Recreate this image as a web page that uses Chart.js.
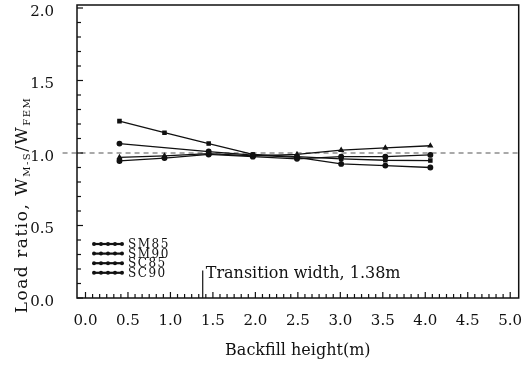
<!DOCTYPE html>
<html>
<head>
<meta charset="utf-8">
<script src="https://cdn.jsdelivr.net/npm/chart.js@4.4.1/dist/chart.umd.min.js"></script>
<style>
  html, body { margin: 0; padding: 0; background: #fff; }
</style>
</head>
<body>
<canvas id="grafico" width="524" height="374"></canvas>
<script>
// dados
const alturas = [0.4, 0.93, 1.45, 1.97, 2.49, 3.01, 3.53, 4.06];
const sm85 = [1.22, 1.14, 1.065, 0.99, 0.975, 0.96, 0.95, 0.948];
const sm90 = [1.065, null, 1.01, 0.985, 0.97, 0.925, 0.913, 0.90];
const sc85 = [0.97, 0.98, 0.995, 0.98, 0.99, 1.02, 1.035, 1.05];
const sc90 = [0.945, 0.965, 0.99, 0.975, 0.96, 0.975, 0.975, 0.987];
const nomesSeries = ["SM85", "SM90", "SC85", "SC90"];
const referenciaY = 1.0;
const referenciaX = [-0.27, 5.1];
const transicao = 1.38;
const textoTransicao = "Transition width, 1.38m";
const rotuloX = "Backfill height(m)";

const serif = "'DejaVu Serif', serif";

function pontos(valores) {
  return alturas.map((h, i) => ({ x: h, y: valores[i] }));
}

// moldura, marcas internas, anotação, legenda e título do eixo y
const extras = {
  id: "extras",
  afterDraw(chart) {
    const { ctx, chartArea: a, scales: { x, y } } = chart;
    ctx.save();
    ctx.strokeStyle = "#111";
    ctx.lineWidth = 1.5;
    ctx.strokeRect(a.left, a.top - 3, a.right - a.left, a.bottom - a.top + 3);

    // marcas do eixo x (para dentro)
    ctx.lineWidth = 1.2;
    x.ticks.forEach(t => {
      const px = x.getPixelForValue(t.value);
      const grande = t.label !== "";
      ctx.beginPath();
      ctx.moveTo(px, a.bottom);
      ctx.lineTo(px, a.bottom - (grande ? 6 : 4));
      ctx.stroke();
    });
    // marcas do eixo y
    y.ticks.forEach(t => {
      const py = y.getPixelForValue(t.value);
      const grande = t.label !== "";
      ctx.beginPath();
      ctx.moveTo(a.left, py);
      ctx.lineTo(a.left + (grande ? 6 : 4), py);
      ctx.stroke();
    });

    // linha de transição
    const tx = x.getPixelForValue(transicao);
    ctx.lineWidth = 1.2;
    ctx.beginPath();
    ctx.moveTo(tx, a.bottom);
    ctx.lineTo(tx, y.getPixelForValue(0.19));
    ctx.stroke();
    ctx.fillStyle = "#111";
    ctx.font = "16px " + serif;
    ctx.textBaseline = "middle";
    ctx.textAlign = "left";
    ctx.fillText(textoTransicao, tx + 3, y.getPixelForValue(0.17));

    // legenda
    ctx.font = "12px " + serif;
    ctx.letterSpacing = "1.5px";
    chart.data.datasets.slice(0, 4).forEach((ds, i) => {
      const ly = 244 + i * 9.6;
      ctx.lineWidth = 2.2;
      ctx.beginPath();
      ctx.moveTo(93, ly);
      ctx.lineTo(122, ly);
      ctx.stroke();
      for (let k = 0; k < 5; k++) {
        ctx.beginPath();
        ctx.arc(94 + k * 7, ly, 2, 0, Math.PI * 2);
        ctx.fill();
      }
      ctx.fillText(ds.label, 128, ly + 1);
    });
    ctx.letterSpacing = "0px";

    // título do eixo y com subscritos
    const partes = [
      ["Load ratio, W", 17, 0],
      ["M-S", 10, 4],
      ["/W", 17, 0],
      ["FEM", 10, 4]
    ];
    ctx.letterSpacing = "1.5px";
    let total = 0;
    partes.forEach(p => { ctx.font = p[1] + "px " + serif; total += ctx.measureText(p[0]).width; });
    ctx.translate(23, 205);
    ctx.rotate(-Math.PI / 2);
    let cx = -total / 2;
    ctx.textAlign = "left";
    partes.forEach(p => {
      ctx.font = p[1] + "px " + serif;
      ctx.fillText(p[0], cx, p[2]);
      cx += ctx.measureText(p[0]).width;
    });
    ctx.restore();
  }
};

const estiloSerie = (nome, valores, forma, tracejado) => ({
  label: nome,
  data: pontos(valores),
  borderColor: "#111",
  backgroundColor: "#111",
  borderWidth: 1.3,
  borderDash: tracejado || [],
  pointStyle: forma,
  pointRadius: 2.3,
  pointBackgroundColor: "#111",
  spanGaps: true,
  tension: 0
});

const ctx = document.getElementById("grafico").getContext("2d");
const grafico = new Chart(ctx, {
  type: "line",
  data: {
    datasets: [
      estiloSerie(nomesSeries[0], sm85, "rect"),
      estiloSerie(nomesSeries[1], sm90, "circle"),
      estiloSerie(nomesSeries[2], sc85, "triangle"),
      estiloSerie(nomesSeries[3], sc90, "circle"),
      {
        label: "ref",
        data: referenciaX.map(v => ({ x: v, y: referenciaY })),
        borderColor: "#555",
        borderWidth: 1.2,
        borderDash: [5, 4],
        pointRadius: 0,
        clip: false
      }
    ]
  },
  options: {
    responsive: false,
    animation: false,
    devicePixelRatio: 1,
    layout: { padding: { top: 8, right: 5, left: 0, bottom: 0 } },
    plugins: { legend: { display: false }, tooltip: { enabled: false } },
    scales: {
      x: {
        type: "linear",
        min: -0.1,
        max: 5.1,
        afterBuildTicks: s => {
          const t = [];
          for (let k = 0; k <= 60; k++) t.push({ value: k / 12 });
          s.ticks = t;
        },
        afterFit: s => {
          s.height = 76;
          s.paddingLeft = 0; s.paddingRight = 0;
        },
        ticks: {
          autoSkip: false,
          maxRotation: 0,
          padding: 6,
          color: "#111",
          font: { family: serif, size: 15 },
          callback: v => {
            const k = Math.round(v * 12);
            return k % 6 === 0 && Math.abs(v * 12 - k) < 1e-6 ? (k / 12).toFixed(1) : "";
          }
        },
        grid: { display: false },
        border: { display: false },
        title: {
          display: true,
          text: rotuloX,
          color: "#111",
          font: { family: serif, size: 16 },
          padding: { top: 4, bottom: 14 }
        }
      },
      y: {
        min: 0,
        max: 2.0,
        afterFit: s => {
          s.width = 77;
          s.paddingTop = 0; s.paddingBottom = 0;
        },
        ticks: {
          stepSize: 0.1,
          autoSkip: false,
          padding: 15,
          labelOffset: 4,
          color: "#111",
          font: { family: serif, size: 15 },
          callback: v => {
            const d = v * 2;
            return Math.abs(d - Math.round(d)) < 1e-6 ? v.toFixed(1) : "";
          }
        },
        grid: { display: false },
        border: { display: false }
      }
    }
  },
  plugins: [extras]
});
</script>
</body>
</html>
